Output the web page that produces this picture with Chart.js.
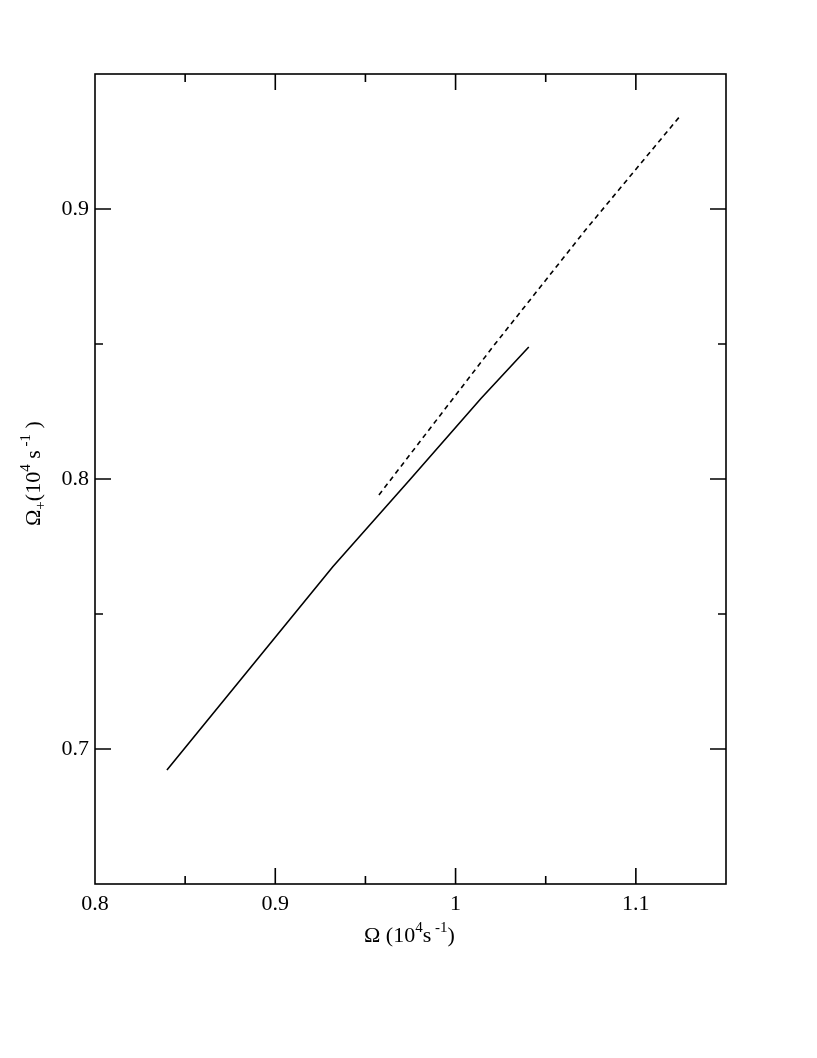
<!DOCTYPE html>
<html>
<head>
<meta charset="utf-8">
<script src="https://cdn.jsdelivr.net/npm/chart.js@4.4.1/dist/chart.umd.min.js"></script>
<style>
html,body{margin:0;padding:0;background:#fff;}
#wrap{width:817px;height:1058px;}
</style>
</head>
<body>
<div id="wrap"><canvas id="c" width="817" height="1058"></canvas></div>
<script>
// Data
const solidX = [0.8399, 0.9319, 0.9745, 1.0142, 1.0406];
const solidY = [0.6922, 0.7675, 0.7996, 0.8299, 0.8489];
const dashX = [0.9575, 1.0206, 1.0724, 1.1250];
const dashY = [0.7941, 0.8489, 0.8925, 0.9348];

const xMin = 0.8, xMax = 1.15, xStep = 0.05;
const yMin = 0.65, yMax = 0.95, yStep = 0.05;

const FONT = '"Liberation Serif","Times New Roman",serif';

function toPts(xs, ys){ return xs.map((x,i)=>({x:x, y:ys[i]})); }
function majorLabel(v){
  const r = Math.round(v*10);
  if (Math.abs(v*10 - r) < 1e-6) return String(r/10);
  return '';
}

function drawRich(ctx, parts, x, y){
  let cx = x;
  for (const p of parts){
    const size = p.s || 22;
    ctx.font = size + 'px ' + FONT;
    ctx.fillText(p.t, cx, y + (p.dy||0));
    cx += ctx.measureText(p.t).width;
  }
}

const framePlugin = {
  id: 'frame',
  afterDraw(chart){
    const ctx = chart.ctx, a = chart.chartArea;
    const xs = chart.scales.x, ys = chart.scales.y;
    ctx.save();
    ctx.strokeStyle = '#000';
    ctx.lineWidth = 1.6;
    ctx.strokeRect(a.left, a.top, a.right - a.left, a.bottom - a.top);
    ctx.beginPath();
    xs.ticks.forEach(t => {
      if (Math.abs(t.value - xMin) < 1e-6 || Math.abs(t.value - xMax) < 1e-6) return;
      const px = xs.getPixelForValue(t.value);
      const len = majorLabel(t.value) ? 16 : 8;
      ctx.moveTo(px, a.bottom); ctx.lineTo(px, a.bottom - len);
      ctx.moveTo(px, a.top); ctx.lineTo(px, a.top + len);
    });
    ys.ticks.forEach(t => {
      if (Math.abs(t.value - yMin) < 1e-6 || Math.abs(t.value - yMax) < 1e-6) return;
      const py = ys.getPixelForValue(t.value);
      const len = majorLabel(t.value) ? 16 : 8;
      ctx.moveTo(a.left, py); ctx.lineTo(a.left + len, py);
      ctx.moveTo(a.right, py); ctx.lineTo(a.right - len, py);
    });
    ctx.stroke();

    // Axis titles
    ctx.fillStyle = '#000';
    ctx.textBaseline = 'alphabetic';
    ctx.textAlign = 'left';
    drawRich(ctx, [
      {t:'Ω (10'},
      {t:'4', s:15, dy:-10},
      {t:'s'},
      {t:' -1', s:15, dy:-10},
      {t:')'}
    ], 364, 942);

    ctx.save();
    ctx.translate(40, 526);
    ctx.rotate(-Math.PI/2);
    drawRich(ctx, [
      {t:'Ω'},
      {t:'+', s:15, dy:5},
      {t:'(10'},
      {t:'4', s:15, dy:-10},
      {t:' s'},
      {t:' -1', s:15, dy:-10},
      {t:' )'}
    ], 0, 0);
    ctx.restore();
    ctx.restore();
  }
};

new Chart(document.getElementById('c'), {
  type: 'scatter',
  data: {
    datasets: [
      { data: toPts(solidX, solidY), showLine: true, borderColor: '#000', borderWidth: 1.6, pointRadius: 0, fill: false, tension: 0 },
      { data: toPts(dashX, dashY), showLine: true, borderColor: '#000', borderWidth: 1.6, borderDash: [5,4], pointRadius: 0, fill: false, tension: 0 }
    ]
  },
  options: {
    responsive: false,
    animation: false,
    layout: { padding: { left: 0, top: 74, right: 91, bottom: 0 } },
    plugins: { legend: { display: false }, tooltip: { enabled: false } },
    scales: {
      x: {
        type: 'linear', min: xMin, max: xMax,
        grid: { display: false, drawTicks: false },
        border: { display: false },
        ticks: { stepSize: xStep, padding: 7, color: '#000', maxRotation: 0, autoSkip: false,
                 font: { family: FONT, size: 22 }, callback: v => majorLabel(v) },
        afterFit(s){ s.height = 174; }
      },
      y: {
        type: 'linear', min: yMin, max: yMax,
        grid: { display: false, drawTicks: false },
        border: { display: false },
        ticks: { stepSize: yStep, padding: 6, color: '#000', autoSkip: false,
                 font: { family: FONT, size: 22 }, callback: v => majorLabel(v) },
        afterFit(s){ s.width = 95; }
      }
    }
  },
  plugins: [framePlugin]
});
</script>
</body>
</html>
